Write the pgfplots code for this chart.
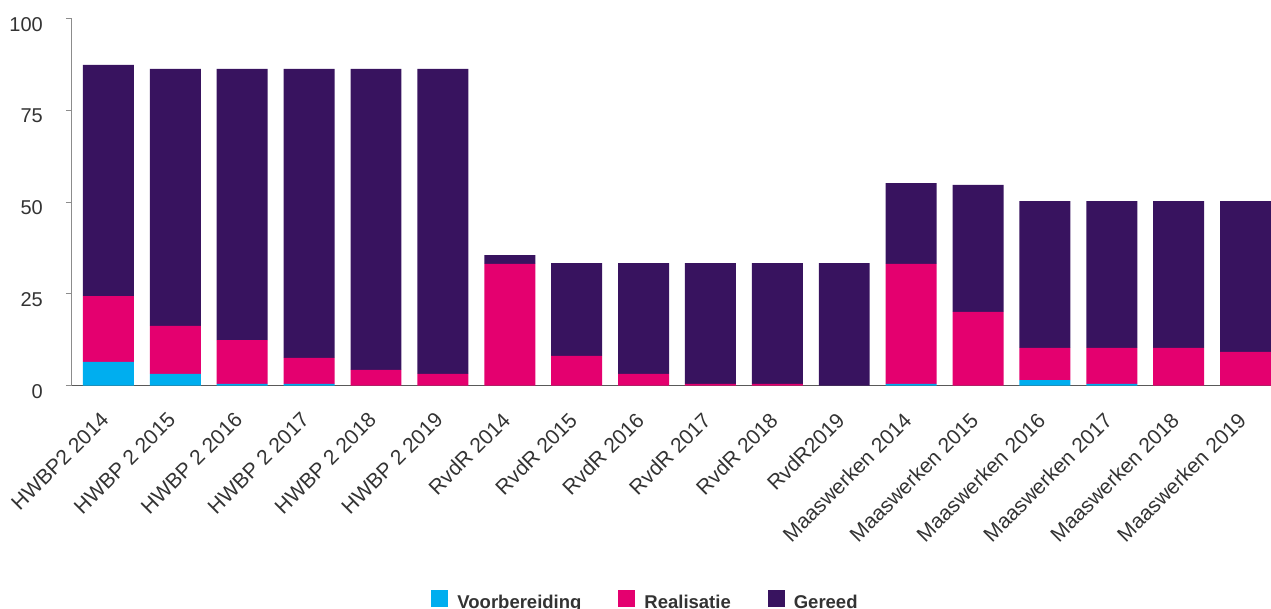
\documentclass[border=0pt]{standalone}
\usepackage{pgfplots}
\pgfplotsset{compat=1.18}
\usepackage{fontspec}
\setmainfont{Liberation Sans}
\definecolor{cblue}{HTML}{00AEEF}
\definecolor{cpink}{HTML}{E4006F}
\definecolor{cpurple}{HTML}{38135F}
\definecolor{txt}{HTML}{333333}
\begin{document}
\begin{tikzpicture}
\useasboundingbox (-72pt,-222.3pt) rectangle (1199pt,385.7pt);
\begin{axis}[
  at={(0pt,0pt)}, anchor=south west,
  scale only axis, width=1199pt, height=367pt,
  ybar stacked, bar width=0.762,
  xmin=-0.545, xmax=17.38, ymin=0, ymax=100,
  axis lines=left, axis line style={-},
  x axis line style={draw=black!65, line width=1.4pt},
  y axis line style={draw=black!45, line width=1pt},
  tick align=outside, major tick length=6pt,
  ytick={0,25,50,75,100},
  y tick style={draw=black!45, line width=1pt},
  x tick style={draw=none},
  xtick={0,...,17},
  xticklabels={HWBP2 2014,HWBP 2 2015,HWBP 2 2016,HWBP 2 2017,HWBP 2 2018,HWBP 2 2019,RvdR 2014,RvdR 2015,RvdR 2016,RvdR 2017,RvdR 2018,RvdR2019,Maaswerken 2014,Maaswerken 2015,Maaswerken 2016,Maaswerken 2017,Maaswerken 2018,Maaswerken 2019},
  xticklabel style={font=\fontsize{21}{23}\selectfont, text=txt, inner sep=0pt, yshift=-19pt, xshift=-9pt, rotate=45, anchor=north east},
  /pgf/number format/assume math mode=true,
  yticklabel style={font=\fontsize{20}{22}\selectfont, text=txt, inner sep=0pt, anchor=east, xshift=-23pt, yshift=-5.5pt},
  legend columns=3,
  legend style={draw=none, fill=none, at={(axis description cs:0.4775,-0.585)}, anchor=center,
    font=\bfseries\fontsize{18.5}{20}\selectfont, text=txt, nodes={inner sep=0pt},
    /tikz/every odd column/.append style={column sep=9pt},
    /tikz/every even column/.append style={column sep=37pt}},
  legend image code/.code={\fill[#1] (0pt,-4.5pt) rectangle (17pt,12.5pt);},
]
\addplot[fill=cblue, draw=none] coordinates {
 (0,6.5) (1,3.2) (2,0.5) (3,0.5) (4,0) (5,0)
 (6,0) (7,0) (8,0) (9,0) (10,0) (11,0)
 (12,0.5) (13,0) (14,1.5) (15,0.5) (16,0) (17,0)};
\addplot[fill=cpink, draw=none] coordinates {
 (0,17.9) (1,13.1) (2,11.9) (3,7.1) (4,4.3) (5,3.2)
 (6,33.2) (7,8.1) (8,3.2) (9,0.5) (10,0.5) (11,0)
 (12,32.7) (13,20.1) (14,8.8) (15,9.8) (16,10.3) (17,9.2)};
\addplot[fill=cpurple, draw=none] coordinates {
 (0,63.0) (1,70.0) (2,73.9) (3,78.7) (4,82.0) (5,83.1)
 (6,2.4) (7,25.3) (8,30.2) (9,32.9) (10,32.9) (11,33.4)
 (12,22.0) (13,34.6) (14,40.0) (15,40.0) (16,40.0) (17,41.1)};
\legend{Voorbereiding,Realisatie,Gereed}
\end{axis}
\end{tikzpicture}
\end{document}
